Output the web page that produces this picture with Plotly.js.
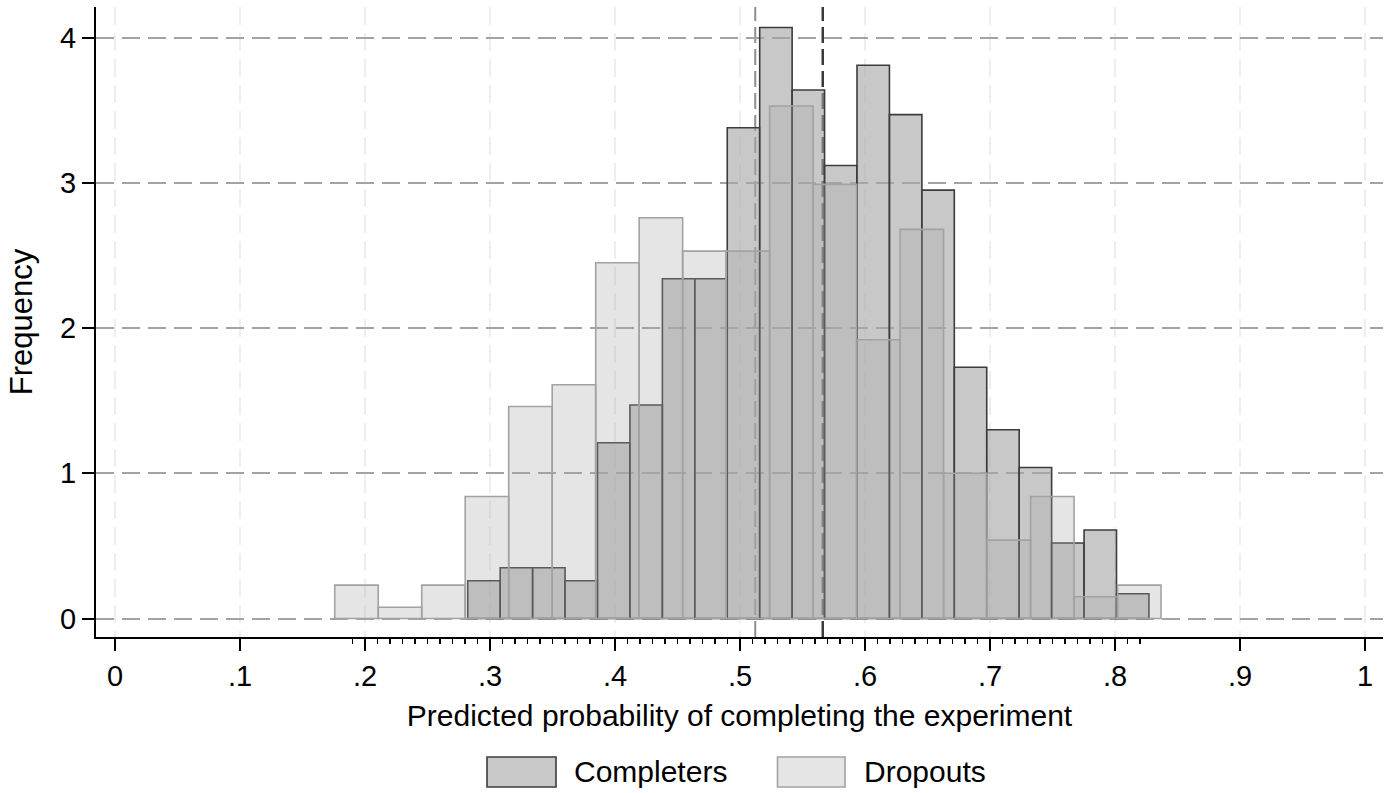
<!DOCTYPE html>
<html><head><meta charset="utf-8">
<script src="https://cdn.plot.ly/plotly-3.0.1.min.js"></script>
<style>html,body{margin:0;padding:0;background:#fff}#chart{width:1393px;height:793px}</style>
</head><body><div id="chart"></div>
<script>
// ---- data ----
const completers = [0.26, 0.35, 0.35, 0.26, 1.21, 1.47, 2.34, 2.34, 3.38, 4.07, 3.64,
                    3.12, 3.81, 3.47, 2.95, 1.73, 1.30, 1.04, 0.52, 0.61, 0.17];
const dropouts   = [0.23, 0.077, 0.23, 0.84, 1.46, 1.61, 2.45, 2.76, 2.53, 2.53,
                    3.53, 2.99, 1.92, 2.68, 1.00, 0.54, 0.84, 0.15, 0.23];
const completersBinStart = 0.2822, completersBinWidth = 0.02595;
const dropoutsBinStart   = 0.1758, dropoutsBinWidth   = 0.03479;
const xTickVals = [0, 0.1, 0.2, 0.3, 0.4, 0.5, 0.6, 0.7, 0.8, 0.9, 1];
const xTickText = ['0', '.1', '.2', '.3', '.4', '.5', '.6', '.7', '.8', '.9', '1'];
const yTickVals = [0, 1, 2, 3, 4];
const yTickText = ['0', '1', '2', '3', '4'];
const refLines = [0.5122, 0.5662];
const seriesNames = ['Completers', 'Dropouts'];
const minorTickFrom = 19, minorTickTo = 82; // in hundredths

// ---- helpers ----
const centers = (vals, start, w) => vals.map((_, i) => start + (i + 0.5) * w);
const minorTicks = [];
for (let k = minorTickFrom; k <= minorTickTo; k++) minorTicks.push(k / 100);

const FONT = 'Liberation Sans, Arial, Helvetica, sans-serif';
const XR = [-0.0152, 1.0144];
const YR = [-0.1274, 4.2114];

const traces = [
  {
    type: 'bar', name: seriesNames[0],
    x: centers(completers, completersBinStart, completersBinWidth),
    y: completers, width: completersBinWidth,
    marker: {color: 'rgba(166,166,166,0.615)', line: {color: '#3c3c3c', width: 1.6}},
    hoverinfo: 'x+y'
  },
  {
    type: 'bar', name: seriesNames[1],
    x: centers(dropouts, dropoutsBinStart, dropoutsBinWidth),
    y: dropouts, width: dropoutsBinWidth,
    marker: {color: 'rgba(166,166,166,0.29)', line: {color: '#a2a2a2', width: 1.6}},
    hoverinfo: 'x+y'
  },
  {type: 'scatter', x: [], y: [], xaxis: 'x2', yaxis: 'y', showlegend: false, hoverinfo: 'skip'}
];

// paper coordinate helpers (plot area: x 96..1383 px, y 7..637 px)
const PX = px => (px - 96) / 1287;
const PY = py => (637 - py) / 630;

const shapes = refLines.map((v, i) => ({
  type: 'line', xref: 'x', yref: 'paper', x0: v, x1: v, y0: 0, y1: 1,
  layer: 'between',
  line: {color: i === 0 ? '#8e8e8e' : '#3a3a3a', width: i === 0 ? 2 : 2.5, dash: '16px,6px'}
}));
// custom legend swatches
shapes.push({type: 'rect', xref: 'paper', yref: 'paper', x0: PX(487), x1: PX(556), y0: PY(787), y1: PY(757),
  fillcolor: '#c8c8c8', line: {color: '#3c3c3c', width: 1.6}, layer: 'above'});
shapes.push({type: 'rect', xref: 'paper', yref: 'paper', x0: PX(777.5), x1: PX(845), y0: PY(787), y1: PY(757),
  fillcolor: '#e5e5e5', line: {color: '#a2a2a2', width: 1.6}, layer: 'above'});

const annotations = [
  {xref: 'paper', yref: 'paper', x: PX(572), y: PY(772), xanchor: 'left', yanchor: 'middle',
   text: seriesNames[0], showarrow: false, font: {family: FONT, size: 30, color: '#000'}},
  {xref: 'paper', yref: 'paper', x: PX(862), y: PY(772), xanchor: 'left', yanchor: 'middle',
   text: seriesNames[1], showarrow: false, font: {family: FONT, size: 30, color: '#000'}}
];

const layout = {
  width: 1393, height: 793,
  margin: {l: 96, r: 10, t: 7, b: 156, pad: 0, autoexpand: false},
  paper_bgcolor: '#ffffff', plot_bgcolor: '#ffffff',
  barmode: 'overlay', showlegend: false,
  font: {family: FONT, size: 29, color: '#000'},
  xaxis: {
    range: XR, tickmode: 'array', tickvals: xTickVals, ticktext: xTickText,
    ticks: 'outside', ticklen: 12, tickwidth: 2, tickcolor: '#000',
    showline: true, linecolor: '#000', linewidth: 2,
    showgrid: true, gridcolor: '#eeeeee', gridwidth: 2, griddash: '18px,8px',
    zeroline: false, tickfont: {family: FONT, size: 29, color: '#000'},
    title: {text: 'Predicted probability of completing the experiment', font: {family: FONT, size: 30, color: '#000'}, standoff: 14},
    automargin: false, fixedrange: true
  },
  xaxis2: {
    overlaying: 'x', anchor: 'y', side: 'bottom', range: XR,
    tickmode: 'array', tickvals: minorTicks, ticks: 'outside', ticklen: 6, tickwidth: 1.5, tickcolor: '#000',
    showticklabels: false, showgrid: false, zeroline: false, showline: false, fixedrange: true
  },
  yaxis: {
    range: YR, tickmode: 'array', tickvals: yTickVals, ticktext: yTickText,
    ticks: 'outside', ticklen: 12, tickwidth: 2, tickcolor: '#000',
    showline: true, linecolor: '#000', linewidth: 2,
    showgrid: true, gridcolor: '#a3a3a3', gridwidth: 2, griddash: '18px,8px',
    zeroline: false, tickfont: {family: FONT, size: 29, color: '#000'},
    title: {text: 'Frequency', font: {family: FONT, size: 31, color: '#000'}, standoff: 18},
    automargin: false, fixedrange: true
  },
  shapes: shapes,
  annotations: annotations
};

Plotly.newPlot('chart', traces, layout, {displayModeBar: false, staticPlot: true});
</script>
</body></html>
